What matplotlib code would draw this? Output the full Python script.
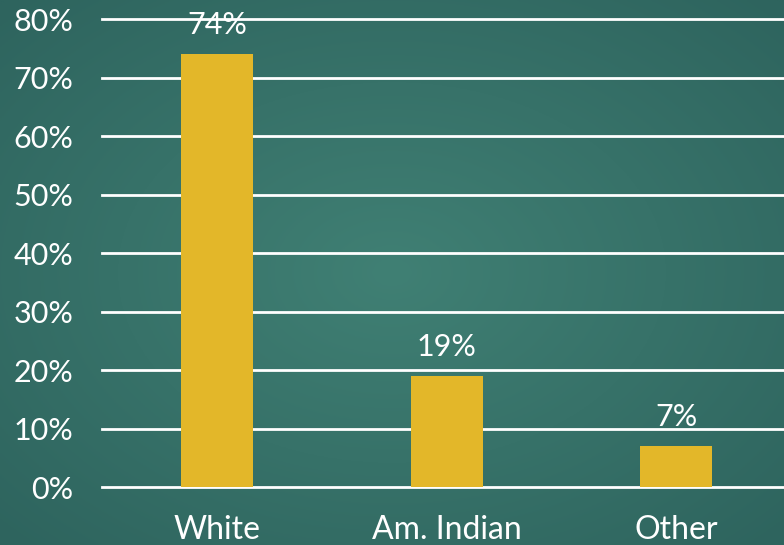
import numpy as np
import matplotlib
matplotlib.use("Agg")
from matplotlib import pyplot as plt

# survey share by group
categories = ["White", "Am. Indian", "Other"]
shares = [74, 19, 7]
tick_values = [0, 10, 20, 30, 40, 50, 60, 70, 80]

plt.rcParams["font.family"] = ["Lato", "DejaVu Sans"]

fig = plt.figure(figsize=(7.84, 5.45), dpi=100)

# teal chalkboard background, lighter towards the middle
bg = fig.add_axes([0, 0, 1, 1])
yy, xx = np.mgrid[-1:1:300j, -1:1:400j]
r = np.sqrt(xx ** 2 + yy ** 2)
dark = np.array([0x2e, 0x64, 0x5e]) / 255
light = np.array([0x40, 0x80, 0x74]) / 255
t = np.clip(r / 1.4, 0, 1)[..., None]
img = light * (1 - t) + dark * t
bg.imshow(img, extent=[0, 1, 0, 1], aspect="auto")
bg.axis("off")

ax = fig.add_axes([0.1307, 0.1064, 0.878, 0.8587])
ax.set_facecolor("none")
x = np.arange(len(categories))
bars = ax.bar(x, shares, width=0.314, color="#E3B729", zorder=3)

ax.set_xlim(-0.5, 2.5)
ax.set_ylim(0, 80)
ax.set_yticks(tick_values)
ax.set_yticklabels([f"{v}%" for v in tick_values])
ax.set_xticks(x)
ax.set_xticklabels(categories)
for v in tick_values:
    ax.axhline(v, color="white", linewidth=2, zorder=1, clip_on=False)
ax.tick_params(axis="both", length=0, colors="white", labelsize=22)
ax.tick_params(axis="y", pad=21)
ax.tick_params(axis="x", labelsize=23, pad=20)
for s in ax.spines.values():
    s.set_visible(False)

for xi, v in zip(x, shares):
    ax.text(xi, v + 2.6, f"{v}%", ha="center", va="bottom",
            color="white", fontsize=22, zorder=4)

fig.savefig("out.png", dpi=100)
